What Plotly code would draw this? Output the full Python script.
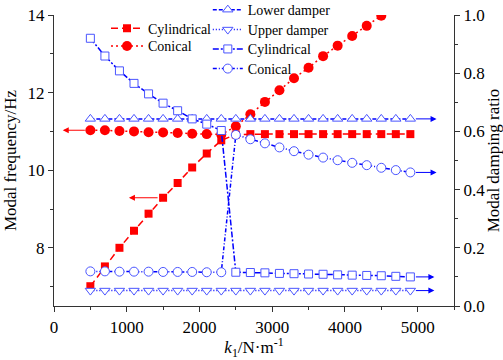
import plotly.graph_objects as go

k1 = [500, 700, 900, 1100, 1300, 1500, 1700, 1900, 2100, 2300, 2500, 2700,
      2900, 3100, 3300, 3500, 3700, 3900, 4100, 4300, 4500, 4700, 4900]
k1_con_f = k1[:21]

freq_cyl = [7.01, 7.52, 8.00, 8.44, 8.88, 9.29, 9.67, 10.07, 10.43, 10.77, 10.92, 10.93,
            10.93, 10.93, 10.93, 10.93, 10.93, 10.93, 10.93, 10.93, 10.93, 10.93, 10.93]
freq_con = [11.03, 11.03, 11.01, 11.00, 10.98, 10.97, 10.96, 10.94, 10.93, 10.92, 11.13,
            11.44, 11.76, 12.06, 12.37, 12.64, 12.94, 13.21, 13.46, 13.72, 13.98]

damp_lower = [0.643] * 23
damp_upper = [0.053] * 23
damp_cyl = [0.920, 0.859, 0.808, 0.765, 0.729, 0.697, 0.671, 0.643, 0.625, 0.603,
            0.116, 0.115, 0.114, 0.112, 0.111, 0.110, 0.109, 0.107, 0.106, 0.105, 0.104, 0.102, 0.100]
damp_con = [0.119, 0.119, 0.118, 0.118, 0.118, 0.117, 0.117, 0.117, 0.116, 0.116,
            0.588, 0.573, 0.559, 0.545, 0.532, 0.520, 0.510, 0.501, 0.492, 0.484, 0.475, 0.467, 0.459]

RED = "#ff0000"
BLUE = "#0000ff"
MBLUE = "#4a55ff"
FONT = "Liberation Serif"

fig = go.Figure()

fig.add_trace(go.Scatter(x=k1, y=freq_cyl, name="Cylindrical", mode="lines+markers",
                         line=dict(color=RED, width=1.5, dash="7px,4px"),
                         marker=dict(symbol="square", size=8, color=RED),
                         legend="legend", showlegend=True))
fig.add_trace(go.Scatter(x=k1_con_f, y=freq_con, name="Conical", mode="lines+markers",
                         line=dict(color=RED, width=1.5, dash="2px,3px"),
                         marker=dict(symbol="circle", size=10, color=RED),
                         legend="legend2", showlegend=True))

hollow = dict(color="white", line=dict(color=MBLUE, width=1))
fig.add_trace(go.Scatter(x=k1, y=damp_lower, name="Lower damper", mode="lines+markers", yaxis="y2",
                         line=dict(color=BLUE, width=1.5, dash="4px,2px"),
                         marker=dict(symbol="triangle-up", size=9, **hollow),
                         legend="legend3", showlegend=True))
fig.add_trace(go.Scatter(x=k1, y=damp_upper, name="Upper damper", mode="lines+markers", yaxis="y2",
                         line=dict(color=BLUE, width=1.5, dash="1px,2px"),
                         marker=dict(symbol="triangle-down", size=9, **hollow),
                         legend="legend4", showlegend=True))
fig.add_trace(go.Scatter(x=k1, y=damp_cyl, name="Cylindrical", mode="lines+markers", yaxis="y2",
                         line=dict(color=BLUE, width=1.5, dash="6px,2px,2px,2px"),
                         marker=dict(symbol="square", size=8, **hollow),
                         legend="legend5", showlegend=True))
fig.add_trace(go.Scatter(x=k1, y=damp_con, name="Conical", mode="lines+markers", yaxis="y2",
                         line=dict(color=BLUE, width=1.5, dash="4px,2px,1px,2px"),
                         marker=dict(symbol="circle", size=9, **hollow),
                         legend="legend6", showlegend=True))

# arrows
arrows = [
    ("y", k1[0], freq_con[0], 120, RED),
    ("y", k1[5], freq_cyl[5], 1030, RED),
    ("y2", k1[-1], damp_lower[-1], 5260, BLUE),
    ("y2", k1[-1], damp_con[-1], 5260, BLUE),
    ("y2", k1[-1], damp_cyl[-1], 5230, BLUE),
    ("y2", k1[-1], damp_upper[-1], 5230, BLUE),
]
for yref, x0, y0, x1, col in arrows:
    fig.add_annotation(x=x1, y=y0, ax=x0, ay=y0, xref="x", yref=yref, axref="x", ayref=yref,
                       text="", showarrow=True, arrowhead=2, arrowsize=1.2, arrowwidth=1,
                       arrowcolor=col, startstandoff=4)

axis_common = dict(showline=True, linecolor="#333333", linewidth=1.2, ticks="outside",
                   tickcolor="#333333", ticklen=5, tickwidth=1.2, showgrid=False, zeroline=False,
                   automargin=False,
                   tickfont=dict(family=FONT, size=17, color="black"))


def leg(x, y, iw):
    return dict(x=x, y=y, xanchor="left", yanchor="middle", bgcolor="rgba(0,0,0,0)",
                font=dict(family=FONT, size=14), itemwidth=iw)


fig.update_layout(
    width=503, height=360,
    showlegend=True,
    margin=dict(l=54, r=49, t=15, b=54, autoexpand=False),
    plot_bgcolor="white", paper_bgcolor="white",
    font=dict(family=FONT, size=15, color="black"),
    xaxis=dict(range=[0, 5500], dtick=1000, tick0=0,
               minor=dict(dtick=500, ticks="outside", ticklen=3, tickcolor="#333333"),
               title=dict(text="<i>k</i><sub>1</sub>/N·m<sup>-1</sup>", font=dict(family=FONT, size=17), standoff=2),
               **axis_common),
    yaxis=dict(range=[6.5, 14], tickvals=[8, 10, 12, 14],
               minor=dict(tickvals=[7, 9, 11, 13], ticks="outside", ticklen=3, tickcolor="#333333"),
               title=dict(text="Modal frequency/Hz", font=dict(family=FONT, size=17), standoff=6),
               **axis_common),
    yaxis2=dict(range=[0, 1], dtick=0.2, tick0=0, tickformat=".1f", overlaying="y", side="right",
                minor=dict(dtick=0.1, ticks="outside", ticklen=3, tickcolor="#333333"),
                title=dict(text="Modal damping ratio", font=dict(family=FONT, size=17), standoff=12),
                **axis_common),
    legend=leg(0.13, 0.953, 32),
    legend2=leg(0.13, 0.892, 32),
    legend3=leg(0.3845, 1.017, 30),
    legend4=leg(0.3845, 0.9485, 30),
    legend5=leg(0.3845, 0.882, 30),
    legend6=leg(0.3845, 0.8145, 30),
)

fig.write_html("out.html")
